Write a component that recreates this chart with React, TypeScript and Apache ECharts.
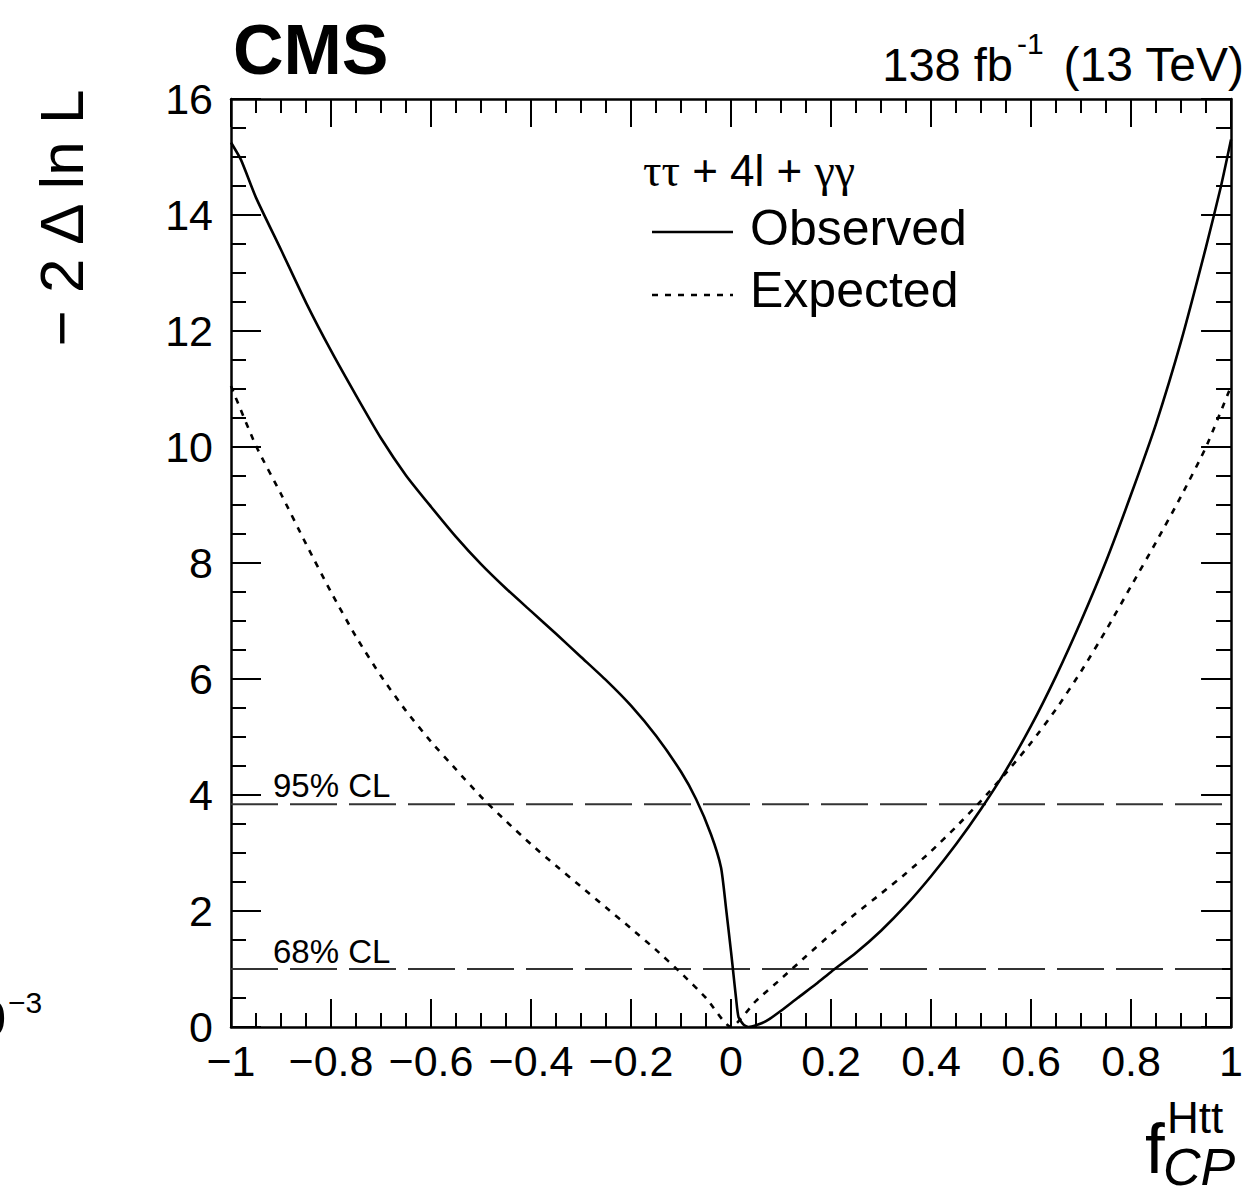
import React, { useEffect, useRef } from "react";
import * as echarts from "echarts";

const FONT = '"Liberation Sans", Arial, Helvetica, sans-serif';
const SERIF = '"Liberation Serif", "DejaVu Serif", serif';

// Observed curve
const obsX = [-1, -0.98, -0.95, -0.9, -0.85, -0.8, -0.75, -0.7, -0.65, -0.6, -0.55, -0.5, -0.45, -0.4, -0.35, -0.3, -0.25, -0.2, -0.15, -0.1, -0.07, -0.04, -0.02, -0.01, 0, 0.005, 0.01, 0.015, 0.025, 0.035, 0.05, 0.07, 0.1, 0.133, 0.17, 0.2, 0.25, 0.3, 0.35, 0.4, 0.45, 0.5, 0.55, 0.6, 0.65, 0.7, 0.75, 0.8, 0.85, 0.9, 0.95, 0.98, 1];
const obsY = [15.25, 14.95, 14.3, 13.4, 12.49, 11.66, 10.89, 10.15, 9.51, 8.97, 8.45, 7.98, 7.56, 7.17, 6.78, 6.38, 5.98, 5.54, 5.02, 4.4, 3.93, 3.32, 2.75, 2.05, 1.3, 0.9, 0.5, 0.17, 0.04, 0.0, 0.03, 0.1, 0.28, 0.5, 0.74, 0.95, 1.28, 1.66, 2.1, 2.6, 3.15, 3.76, 4.43, 5.19, 6.05, 7.0, 8.03, 9.18, 10.4, 11.82, 13.45, 14.5, 15.3];

// Expected curve
const expX = [-1, -0.95, -0.9, -0.85, -0.8, -0.75, -0.7, -0.65, -0.6, -0.55, -0.5, -0.45, -0.4, -0.35, -0.3, -0.25, -0.2, -0.15, -0.1, -0.05, 0, 0.05, 0.1, 0.15, 0.2, 0.25, 0.3, 0.35, 0.4, 0.45, 0.5, 0.55, 0.6, 0.65, 0.7, 0.75, 0.8, 0.85, 0.9, 0.95, 1];
const expY = [11.05, 10.02, 9.19, 8.33, 7.5, 6.73, 6.05, 5.45, 4.92, 4.44, 3.97, 3.55, 3.15, 2.78, 2.42, 2.06, 1.7, 1.33, 0.93, 0.5, 0, 0.45, 0.83, 1.22, 1.6, 1.96, 2.3, 2.65, 3.03, 3.45, 3.9, 4.38, 4.9, 5.48, 6.13, 6.84, 7.6, 8.36, 9.15, 10.0, 11.05];

// Confidence-level thresholds
const clLevels = [1, 3.84];
const clLabels = ["68% CL", "95% CL"];

const xRange = [-1, 1];
const yRange = [0, 16];

const fmtX = (v: number) => {
  const r = Math.round(v * 10) / 10;
  if (r === 0) return "0";
  return (r < 0 ? "\u2212" : "") + String(Math.abs(r));
};

function txt(x: number, y: number, text: string, font: string, align = "left", vAlign = "middle", extra: any = {}) {
  return {
    type: "text",
    x,
    y,
    ...extra,
    style: {
      text,
      font,
      fill: "#000",
      align,
      textAlign: align,
      verticalAlign: vAlign,
      textVerticalAlign: vAlign,
    },
  };
}

export default function App() {
  const ref = useRef<HTMLDivElement>(null);
  useEffect(() => {
    document.body.style.margin = "0";
    if (!ref.current) return;
    const chart = echarts.init(ref.current, null, { renderer: "svg" });

    const axisCommonX = {
      type: "value",
      min: xRange[0],
      max: xRange[1],
      interval: 0.2,
      axisLine: { show: true, onZero: false, lineStyle: { color: "#000", width: 2.5 } },
      axisTick: { show: true, inside: true, length: 28, lineStyle: { color: "#000", width: 2 } },
      minorTick: { show: true, splitNumber: 4, length: 14, lineStyle: { color: "#000", width: 2 } },
      splitLine: { show: false },
    };
    const axisCommonY = {
      type: "value",
      min: yRange[0],
      max: yRange[1],
      interval: 2,
      axisLine: { show: true, onZero: false, lineStyle: { color: "#000", width: 2.5 } },
      axisTick: { show: true, inside: true, length: 30, lineStyle: { color: "#000", width: 2 } },
      minorTick: { show: true, splitNumber: 4, length: 15, lineStyle: { color: "#000", width: 2 } },
      splitLine: { show: false },
    };

    const clSeries = clLevels.map((lv, i) => ({
      type: "line",
      name: clLabels[i],
      data: [[xRange[0], lv], [xRange[1], lv]],
      showSymbol: false,
      silent: true,
      z: 1,
      lineStyle: { color: "#333", width: 2, type: [47, 12] },
    }));

    const option: any = {
      animation: false,
      backgroundColor: "#fff",
      grid: { left: 231, top: 99, width: 1004, height: 928, containLabel: false },
      xAxis: [
        {
          ...axisCommonX,
          position: "bottom",
          axisLabel: { show: true, margin: 12, fontSize: 43, fontFamily: FONT, color: "#000", formatter: fmtX },
        },
        { ...axisCommonX, position: "top", axisLabel: { show: false } },
      ],
      yAxis: [
        {
          ...axisCommonY,
          position: "left",
          axisLabel: { show: true, margin: 18, fontSize: 43, fontFamily: FONT, color: "#000" },
        },
        { ...axisCommonY, position: "right", axisLabel: { show: false } },
      ],
      series: [
        ...clSeries,
        {
          type: "line",
          name: "Observed",
          data: obsX.map((x, i) => [x, obsY[i]]),
          showSymbol: false,
          smooth: 0.2,
          z: 3,
          lineStyle: { color: "#000", width: 2.6, type: "solid", join: "round" },
        },
        {
          type: "line",
          name: "Expected",
          data: expX.map((x, i) => [x, expY[i]]),
          showSymbol: false,
          smooth: 0.2,
          z: 2,
          lineStyle: { color: "#000", width: 2.6, type: [6, 7] },
        },
      ],
      graphic: [
        txt(233, 50, "CMS", `bold 70px ${FONT}`),
        txt(1013, 64, "138 fb", `47px ${FONT}`, "right"),
        txt(1017, 43, "-1", `30px ${FONT}`, "left"),
        txt(1244, 64, "(13 TeV)", `48px ${FONT}`, "right"),
        txt(61, 218, "\u2212 2 \u0394 ln L", `62px ${FONT}`, "center", "middle", { rotation: Math.PI / 2 }),
        // x-axis title
        txt(1145, 1148, "f", `71px ${FONT}`, "left"),
        txt(1167, 1117, "Htt", `44px ${FONT}`, "left"),
        txt(1163, 1167, "CP", `italic 52px ${FONT}`, "left"),
        // clipped exponent at lower left
        txt(6, 1019, "10", `50px ${FONT}`, "right"),
        txt(8, 1002, "\u22123", `30px ${FONT}`, "left"),
        // CL labels
        txt(273, 785, clLabels[1], `33px ${FONT}`, "left"),
        txt(273, 951, clLabels[0], `33px ${FONT}`, "left"),
        // legend
        {
          type: "text",
          x: 643,
          y: 170,
          style: {
            text: "{g|\u03c4\u03c4}{t| + 4l + }{g|\u03b3\u03b3}",
            fill: "#000",
            align: "left",
            textAlign: "left",
            verticalAlign: "middle",
            textVerticalAlign: "middle",
            rich: {
              g: { fontFamily: SERIF, fontSize: 46, fill: "#000" },
              t: { fontFamily: FONT, fontSize: 44, fill: "#000" },
            },
          },
        },
        { type: "line", shape: { x1: 652, y1: 232, x2: 733, y2: 232 }, style: { stroke: "#000", lineWidth: 2.6 } },
        txt(750, 228, "Observed", `50px ${FONT}`, "left"),
        { type: "line", shape: { x1: 652, y1: 295, x2: 733, y2: 295 }, style: { stroke: "#000", lineWidth: 2.6, lineDash: [6, 7] } },
        txt(750, 290, "Expected", `50px ${FONT}`, "left"),
      ],
    };
    chart.setOption(option);
    return () => chart.dispose();
  }, []);
  return <div ref={ref} style={{ position: "absolute", left: 0, top: 0, width: 1246, height: 1199 }} />;
}
